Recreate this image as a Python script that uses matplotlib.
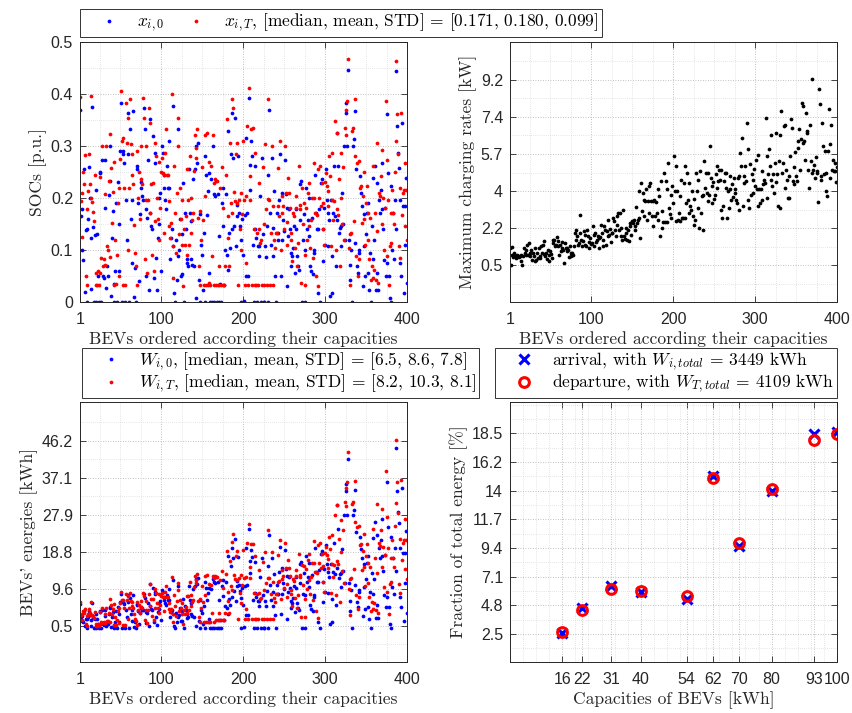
import numpy as np
import matplotlib
matplotlib.use("Agg")
import matplotlib.pyplot as plt
from matplotlib.lines import Line2D
from matplotlib.ticker import FixedLocator

plt.rcParams["mathtext.fontset"] = "cm"
plt.rcParams["axes.unicode_minus"] = False

# capacity classes [kWh] and number of BEVs in each class (BEVs sorted by capacity)
cap_classes = [16, 22, 31, 40, 54, 62, 70, 80, 93, 100]
cap_counts = [37, 48, 46, 33, 23, 55, 31, 40, 45, 42]

# arrival SOC x_i0 [p.u.]
soc_arr = [
    .37, .166, .178, .1, .08, .255, .02, .138, 0, .14, .16, .26, .2, .025, .123, .375, .145, 0, .128, .215, 0, .13, .05, 0, .25,
    .248, 0, .274, .05, .046, .18, .274, .027, .069, .05, .205, .3, .232, .011, .123, .175, 0, .035, .06, .19, 0, .23, .06, .15, .29,
    .383, 0, .29, .285, .267, 0, .197, .12, .364, .284, 0, .332, .159, .196, .075, .367, .009, .065, 0, .261, .255, .19, .04, .17, .23,
    .22, .203, .197, .374, .332, .05, .178, .162, .274, .024, .351, .171, .146, .14, .319, .046, .268, .287, .085, .024, .123, .2, .15, .21, .06,
    .30, .287, .245, .22, .197, .178, .261, .22, .22, .31, .082, .123, .14, .107, .377, .017, 0, .12, .043, .088, .332, .1, .16, .05, .13,
    .053, .229, 0, .171, .14, .075, .082, .069, .255, .171, .082, .155, .072, .236, .069, .255, .30, .008, .268, .306, .043, 0, .17, .11, .09,
    .024, .133, .28, 0, .245, .168, .213, .248, .056, 0, .236, 0, .30, 0, .207, .203, .232, 0, .207, 0, .126, .035, 0, .19, .22,
    .146, .033, .1, .207, .091, .329, .062, .133, .104, .284, .14, .364, .277, .146, .354, .107, .187, .165, .28, .171, .146, 0, .12, .16, .09,
    .001, .168, .05, .316, .171, .05, .393, .264, .216, .309, .28, .11, 0, .261, .14, .123, 0, .107, .107, .088, .203, 0, .277, .13, 0,
    0, .107, .086, .146, .245, 0, .37, .171, .11, .277, .142, .088, .213, .05, 0, .171, .133, .12, .197, .284, .05, .12, .21, .158, .136,
    .274, .207, .181, .03, .126, .178, .14, .069, .094, .088, .104, .146, .056, .178, .14, .088, .069, .062, .158, .226, .232, 0, .12, .17, .1,
    0, .22, .14, .158, .126, .2, .069, .059, .162, .053, .1, .094, .245, .171, .14, .017, .14, .178, 0, .229, .236, .14, .078, .18, .11,
    .255, .197, .107, .171, .158, .011, .197, .088, .017, .171, .261, .165, .069, .325, .158, .261, .133, .142, .146, .107, .21, .15, .3, .12, .383,
    .364, .30, .447, .12, .072, .043, .1, 0, .30, .313, .114, .367, .255, .069, .056, .094, .1, .242, .21, .184, .03, .107, .17, .05, .13,
    .171, .056, .191, .024, .094, 0, .146, .239, .082, .12, .261, .024, .229, .056, .024, .197, .171, .216, .268, .178, .14, .08, .18, .05, .361,
    .075, .248, .05, .008, 0, .223, .1, .171, .082, .197, .14, .444, .338, .287, .258, .075, .197, .05, .345, .184, .017, .184, .11, .239, .037,
]

# departure SOC x_iT [p.u.]
soc_dep = [
    .394, .195, .209, .125, .25, .226, .282, .05, .033, .178, .214, .284, .227, .2, .397, .192, .173, .155, .245, .033, .056, .033, .06, .033, .24,
    .056, .085, .30, .069, .083, .208, .072, .30, .107, .1, .232, .086, .323, .258, .152, .211, .033, .27, .12, .035, .09, .19, .05, .22, .275,
    .405, .31, .033, .316, .22, .033, .383, .306, .354, .1, .22, .39, .303, .284, .245, .226, .149, .094, .07, .033, .29, .2, .25, .16, .3,
    .236, .226, .393, .354, .082, .197, .30, .056, .197, .374, .171, .345, .226, .091, .229, .059, .155, .306, .28, .2, .16, .27, .12, .18, .25,
    .277, .248, .245, .133, .287, .332, .245, .245, .194, .146, .123, .151, .40, .047, .107, .261, .171, .094, .21, .354, .3, .13, .22, .16, .11,
    .197, .03, .141, .11, .165, .255, .091, .197, .11, .28, .2, .133, .158, .171, .252, .322, .297, .277, .332, .162, .069, .033, .175, .12, .26,
    .158, .033, .322, .203, .033, .325, .033, .27, .037, .033, .261, .088, .322, .033, .229, .236, .033, .232, .033, .069, .033, .22, .033, .26, .033,
    .181, .033, .069, .245, .351, .165, .123, .069, .306, .19, .39, .171, .374, .211, .194, .284, .19, .306, .033, .197, .14, .21, .1, .17, .31,
    .197, .033, .075, .203, .339, .033, .412, .197, .242, .332, .033, .335, .14, .033, .287, .033, .133, .033, .229, .14, .114, .12, .033, .26, .15,
    .033, .303, .178, .033, .199, .39, .197, .033, .133, .30, .184, .033, .12, .104, .133, .133, .184, .258, .165, .309, .1, .203, .171, .184, .14,
    .30, .21, .153, .11, .239, .21, .181, .133, .12, .078, .171, .165, .104, .203, .181, .069, .114, .261, .187, .178, .037, .22, .15, .19, .09,
    .033, .181, .12, .21, .229, .146, .104, .158, .2, .085, .2, .268, .171, .05, .168, .255, .03, .2, .261, .184, .229, .14, .19, .11, .23,
    .248, .223, .184, .213, .28, .242, .107, .197, .287, .158, .194, .348, .1, .325, .178, .168, .236, .069, .287, .2, .15, .26, .12, .335, .37,
    .322, .386, .467, .104, .033, .13, .133, .329, .335, .155, .39, .28, .088, .268, .05, .082, .271, .22, .223, .152, .203, .16, .25, .11, .19,
    .223, .12, .171, .082, .162, .043, .069, .261, .046, .062, .171, .043, .306, .136, .037, .21, .203, .242, .293, .15, .2, .1, .18, .386, .274,
    .088, .197, .033, .107, .171, .114, .216, .171, .15, .25, .463, .309, .361, .284, .107, .22, .085, .364, .168, .21, .216, .146, .268, .216, .12,
]

# maximum charging rate of each BEV [kW]
rate_max = [
    1.31, .53, 1.36, 1.0, .88, 1.08, .92, .84, 1.0, .89, .92, .89, .92, .72, 1.0, .53, .92, 1.31, 1.08, 1.2, 1.0, 1.47, 1.0, 1.55, 1.08,
    .92, 1.24, .77, 1.08, .92, 1.31, .72, .77, 1.08, .84, 1.31, .92, .84, 1.42, 1.08, 1.47, 1.05, 1.63, .92, 1.1, .8, 1.2, 1.0, .7, 1.15,
    1.03, .84, 1.7, 1.55, 1.67, 1.39, 1.47, 1.83, 1.39, 1.63, 1.0, 1.47, 1.16, 1.58, 1.31, 1.24, .61, 1.55, 1.31, 1.16, 1.31, 1.2, .9, 1.4, 1.1,
    .92, 1.08, 1.0, 1.42, 2.02, 2.17, 1.67, 1.86, 1.47, 1.55, 2.02, 2.88, 1.7, 1.39, 1.63, 2.1, 1.47, 1.94, 1.39, 2.17, 1.86, 1.6, 1.3, 1.8, 1.5,
    1.55, 2.33, 1.92, 1.39, 2.02, 1.58, 1.7, 1.86, 1.78, 1.31, 1.83, 2.41, 2.02, 1.39, 1.7, 2.33, 2.17, 1.47, 2.1, 1.86, 2.61, 1.9, 2.2, 1.6, 2.0,
    2.02, 2.72, 2.57, 2.17, 1.86, 2.8, 2.41, 2.96, 2.17, 2.96, 1.86, 2.25, 1.7, 3.08, 1.86, 1.74, 2.02, 2.25, 1.7, 2.17, 1.63, 2.33, 2.5, 1.9, 2.6,
    2.49, 2.64, 2.17, 2.33, 3.24, 2.49, 2.64, 2.72, 3.97, 1.78, 4.37, 3.03, 3.9, 3.58, 2.8, 3.5, 4.06, 2.64, 3.5, 4.21, 2.96, 4.37, 3.5, 2.8, 2.33,
    3.5, 3.58, 2.8, 3.49, 2.96, 2.64, 4.06, 3.74, 1.86, 4.44, 2.25, 3.03, 2.52, 4.84, 2.52, 4.44, 2.52, 4.06, 5.3, 3.2, 2.9, 3.8, 2.7, 4.2, 3.4,
    5.62, 3.97, 2.57, 5.15, 3.97, 2.64, 2.96, 2.57, 3.74, 4.52, 2.72, 2.72, 4.37, 2.72, 5.15, 3.43, 4.84, 3.58, 2.96, 4.37, 3.27, 3.1, 4.0, 2.8, 3.6,
    2.41, 2.64, 4.84, 3.97, 4.52, 3.19, 2.25, 4.91, 2.96, 3.74, 3.82, 2.17, 5.38, 4.13, 4.84, 3.9, 4.84, 3.5, 3.82, 6.09, 4.6, 4.2, 3.4, 4.4, 3.6,
    3.82, 4.76, 4.13, 5.15, 4.44, 4.99, 4.52, 3.11, 4.99, 2.72, 3.27, 4.44, 4.84, 4.84, 4.13, 2.72, 3.97, 3.19, 4.68, 4.06, 3.58, 4.3, 3.7, 4.6, 3.9,
    4.06, 3.58, 3.43, 4.6, 3.11, 4.68, 5.77, 5.15, 6.48, 3.27, 4.68, 4.37, 5.15, 4.44, 7.18, 3.58, 5.93, 3.19, 5.23, 3.82, 4.76, 4.5, 3.9, 5.0, 4.2,
    5.46, 4.06, 3.27, 5.69, 4.06, 3.43, 4.06, 3.58, 4.91, 4.29, 4.52, 4.37, 7.42, 5.62, 3.66, 4.76, 5.93, 5.15, 6.63, 4.52, 4.21, 4.8, 3.9, 5.3, 4.4,
    6.71, 4.76, 3.27, 5.38, 6.63, 3.19, 7.73, 4.84, 5.3, 7.03, 7.1, 4.13, 4.99, 4.52, 3.66, 4.68, 3.66, 5.62, 7.34, 6.95, 4.44, 5.1, 4.3, 5.8, 4.7,
    4.44, 6.32, 6.01, 6.87, 4.99, 6.4, 8.12, 7.96, 6.24, 6.32, 5.46, 7.65, 6.79, 6.71, 4.99, 4.13, 7.1, 5.38, 4.84, 9.22, 4.99, 5.2, 4.6, 5.6, 4.9,
    4.84, 3.46, 8.75, 8.04, 4.68, 4.52, 7.18, 6.09, 4.76, 5.85, 3.97, 4.84, 3.74, 5.85, 7.81, 6.17, 4.6, 7.1, 4.99, 5.46, 4.91, 4.91, 5.3, 4.4, 5.1,
]

# share of the total fleet energy held by each capacity class [%]
share_arr = [2.58, 4.6, 6.3, 5.82, 5.32, 15.1, 9.52, 13.9, 18.43, 18.62]
share_dep = [2.63, 4.44, 6.09, 5.93, 5.5, 14.97, 9.79, 14.07, 18.0, 18.48]

idx = np.arange(1, 401)
cap = np.repeat(cap_classes, cap_counts)
energy_arr = np.array(soc_arr) * cap
energy_dep = np.array(soc_dep) * cap

SERIF = "cmr10"
TICKFONT = "Liberation Sans"
AXCOL = (0.15, 0.15, 0.15)
LABEL_FS = 12.6
LEGEND_FS = 12.5
TICK_FS = 11.5


def style_axes(ax, ymajor, ylabels, ylim, xmajor, xlabels, xlim, xminor, yminor):
    ax.set_xlim(*xlim)
    ax.set_ylim(*ylim)
    ax.xaxis.set_major_locator(FixedLocator(xmajor))
    ax.yaxis.set_major_locator(FixedLocator(ymajor))
    ax.xaxis.set_minor_locator(FixedLocator(xminor))
    ax.yaxis.set_minor_locator(FixedLocator(yminor))
    ax.set_xticklabels(xlabels, fontname=TICKFONT, fontsize=TICK_FS, color=AXCOL)
    ax.set_yticklabels(ylabels, fontname=TICKFONT, fontsize=TICK_FS, color=AXCOL)
    ax.tick_params(which="major", direction="in", length=4, width=0.6, top=True, right=True, colors=AXCOL, pad=5)
    ax.tick_params(axis="x", which="major", pad=7)
    ax.tick_params(which="minor", direction="in", length=0, top=True, right=True)
    ax.grid(which="major", linestyle=(0, (1, 2)), color="0.68", linewidth=0.6)
    ax.grid(which="minor", linestyle=(0, (1, 2)), color="0.8", linewidth=0.5)
    ax.set_axisbelow(True)
    for sp in ax.spines.values():
        sp.set_color(AXCOL)
        sp.set_linewidth(0.7)


def label(ax, xl, yl):
    ax.set_xlabel(xl, fontname=SERIF, fontsize=LABEL_FS, color=AXCOL, labelpad=3)
    ax.set_ylabel(yl, fontname=SERIF, fontsize=LABEL_FS, color=AXCOL, labelpad=3)


def boxed_legend(ax, handles, texts, **kw):
    leg = ax.legend(handles, texts, borderaxespad=0, prop={"family": SERIF, "size": LEGEND_FS},
                    fancybox=False, edgecolor="black", handlelength=3.0, handletextpad=0.15,
                    borderpad=0.15, labelspacing=0.0, **kw)
    leg.get_frame().set_linewidth(0.7)
    return leg


fig = plt.figure(figsize=(8.52, 7.13), dpi=100)
W, H = 852, 713
ax_w, ax_h = 327 / W, 260 / H
ax_tl = fig.add_axes([80 / W, 1 - 302 / H, ax_w, ax_h])
ax_tr = fig.add_axes([510 / W, 1 - 302 / H, ax_w, ax_h])
ax_bl = fig.add_axes([80 / W, 1 - 662 / H, ax_w, ax_h])
ax_br = fig.add_axes([510 / W, 1 - 662 / H, ax_w, ax_h])

idx_ticks = [1, 100, 200, 300, 400]
idx_minor = list(range(25, 400, 25))
xlab = "BEVs ordered according their capacities"
dot = dict(marker="o", markersize=2.7, markeredgewidth=0)

# SOCs at arrival and departure
ax_tl.plot(idx, soc_arr, color="blue", linestyle="none", **dot)
ax_tl.plot(idx, soc_dep, color="red", linestyle="none", **dot)
style_axes(ax_tl, [0, .1, .2, .3, .4, .5], ["0", "0.1", "0.2", "0.3", "0.4", "0.5"], (0, 0.5),
           idx_ticks, [str(t) for t in idx_ticks], (1, 400), idx_minor, np.arange(0.05, 0.5, 0.1))
label(ax_tl, xlab, "SOCs [p.u.]")
h_dots = [Line2D([], [], color="blue", linestyle="none", **dot),
          Line2D([], [], color="red", linestyle="none", **dot)]
boxed_legend(ax_tl, h_dots, [r"$x_{i,0}$", r"$x_{i,T}$, [median, mean, STD] = [0.171, 0.180, 0.099]"],
             ncol=2, loc="lower left", bbox_to_anchor=(0, 1.02), columnspacing=0.3)

# maximum charging rates
rate_ticks = np.linspace(0.5, 9.2, 6)
ax_tr.plot(idx, rate_max, color="black", linestyle="none", **dot)
style_axes(ax_tr, rate_ticks, ["0.5", "2.2", "4", "5.7", "7.4", "9.2"], (-1.22, 10.97),
           idx_ticks, [str(t) for t in idx_ticks], (1, 400), idx_minor,
           np.arange(0.5 - 1.74 / 2, 11, 1.74))
label(ax_tr, xlab, "Maximum charging rates [kW]")

# energies stored at arrival and departure
e_ticks = np.linspace(0.5, 46.2, 6)
ax_bl.plot(idx, energy_arr, color="blue", linestyle="none", **dot)
ax_bl.plot(idx, energy_dep, color="red", linestyle="none", **dot)
style_axes(ax_bl, e_ticks, ["0.5", "9.6", "18.8", "27.9", "37.1", "46.2"], (-8.48, 55.76),
           idx_ticks, [str(t) for t in idx_ticks], (1, 400), idx_minor,
           np.arange(0.5 - 9.14 / 2, 56, 9.14))
label(ax_bl, xlab, "BEVs' energies [kWh]")
boxed_legend(ax_bl, h_dots, [r"$W_{i,0}$, [median, mean, STD] = [6.5, 8.6, 7.8]",
                             r"$W_{i,T}$, [median, mean, STD] = [8.2, 10.3, 8.1]"],
             loc="lower left", bbox_to_anchor=(0.006, 1.015))

# energy share per capacity class
f_ticks = np.linspace(2.5, 18.5, 8)
h_arr, = ax_br.plot(cap_classes, share_arr, linestyle="none", marker="x", color="blue",
                    markersize=7.5, markeredgewidth=2.2)
h_dep, = ax_br.plot(cap_classes, share_dep, linestyle="none", marker="o", color="red",
                    markerfacecolor="none", markersize=7, markeredgewidth=2.2)
style_axes(ax_br, f_ticks, ["2.5", "4.8", "7.1", "9.4", "11.7", "14", "16.2", "18.5"], (0.27, 21.0),
           cap_classes, [str(c) for c in cap_classes], (0, 100), list(range(0, 101, 4)),
           np.arange(2.5 - 2.2857, 21.0, 2.2857 / 2))
label(ax_br, "Capacities of BEVs [kWh]", "Fraction of total energy [%]")
boxed_legend(ax_br, [h_arr, h_dep], [r"arrival, with $W_{i,total}$ = 3449 kWh",
                                     r"departure, with $W_{T,total}$ = 4109 kWh"],
             loc="lower right", bbox_to_anchor=(1.0, 1.015))

fig.savefig("out.png", dpi=100)
